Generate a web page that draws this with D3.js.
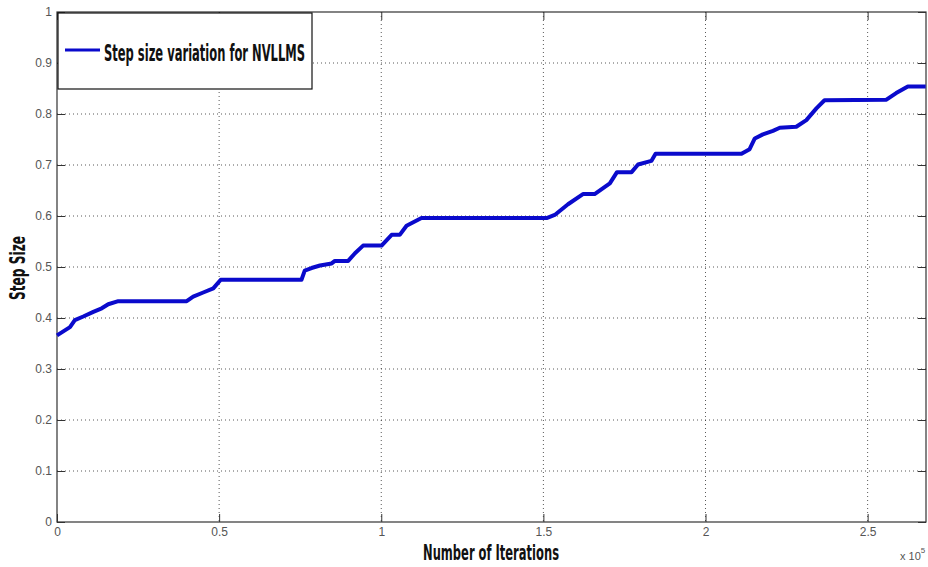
<!DOCTYPE html>
<html>
<head>
<meta charset="utf-8">
<script src="https://cdn.jsdelivr.net/npm/d3@7"></script>
<style>
  html, body { margin: 0; padding: 0; background: #fff; }
  svg { display: block; }
</style>
</head>
<body>
<svg id="chart" width="928" height="567"></svg>
<script>
// Iteration counts and the step size reached at each point
const iterations = [0, 4000, 5500, 8100, 11200, 13800, 15800, 18900, 40000, 42000,
  45100, 48200, 50500, 75400, 76400, 78500, 81100, 84700, 85700, 89800,
  91900, 94400, 100100, 103200, 105700, 107800, 112400, 151000, 153500, 157600,
  162200, 165800, 170500, 172700, 177200, 179200, 183300, 184600, 211100, 213600,
  215200, 217700, 220800, 222900, 228000, 231100, 234200, 236700, 255800, 258800,
  262400, 267900];
const stepSize = [0.366, 0.382, 0.396, 0.403, 0.412, 0.419, 0.427, 0.433, 0.433, 0.442,
  0.450, 0.458, 0.475, 0.475, 0.493, 0.498, 0.503, 0.507, 0.512, 0.512,
  0.527, 0.542, 0.542, 0.563, 0.563, 0.581, 0.596, 0.596, 0.602, 0.623,
  0.643, 0.643, 0.664, 0.686, 0.686, 0.701, 0.708, 0.722, 0.722, 0.731,
  0.752, 0.760, 0.767, 0.773, 0.775, 0.788, 0.811, 0.827, 0.828, 0.841,
  0.854, 0.854];

const xTicks = [0, 50000, 100000, 150000, 200000, 250000];
const yTicks = [0, 0.1, 0.2, 0.3, 0.4, 0.5, 0.6, 0.7, 0.8, 0.9, 1];
const seriesName = "Step size variation for NVLLMS";
const xTitle = "Number of Iterations";
const yTitle = "Step Size";

const svg = d3.select("#chart");
const plot = { left: 57, top: 12, right: 926, bottom: 522 };

const x = d3.scaleLinear().domain([0, 268000]).range([plot.left, plot.right]);
const y = d3.scaleLinear().domain([0, 1]).range([plot.bottom, plot.top]);

const tickFont = "'Liberation Sans', Arial, sans-serif";
const titleFont = "'Liberation Sans Narrow', 'DejaVu Sans Condensed', 'Roboto Condensed', sans-serif";
const tickLen = 8;

// dotted grid
const grid = svg.append("g");
grid.selectAll("line.gx").data(xTicks.filter(d => d > 0)).join("line")
  .attr("x1", d => x(d)).attr("x2", d => x(d))
  .attr("y1", plot.top).attr("y2", plot.bottom)
  .attr("stroke", "#222").attr("stroke-width", 1)
  .attr("stroke-dasharray", "1,3").attr("opacity", 0.75);
grid.selectAll("line.gy").data(yTicks.filter(d => d > 0 && d < 1)).join("line")
  .attr("x1", plot.left).attr("x2", plot.right)
  .attr("y1", d => y(d)).attr("y2", d => y(d))
  .attr("stroke", "#222").attr("stroke-width", 1)
  .attr("stroke-dasharray", "1,3").attr("opacity", 0.75);

// axes with inward ticks
const axisStyle = g => {
  g.select(".domain").remove();
  g.selectAll(".tick line").attr("stroke", "#333");
  g.selectAll(".tick text").attr("fill", "#555")
    .style("font-family", tickFont).style("font-size", "12px");
};

svg.append("g").attr("transform", `translate(0,${plot.bottom})`)
  .call(d3.axisBottom(x).tickValues(xTicks).tickSizeInner(-tickLen).tickPadding(5)
    .tickFormat(d => d3.format("~g")(d / 1e5)))
  .call(axisStyle);
svg.append("g").attr("transform", `translate(0,${plot.top})`)
  .call(d3.axisTop(x).tickValues(xTicks).tickSizeInner(-tickLen).tickFormat(""))
  .call(axisStyle);
svg.append("g").attr("transform", `translate(${plot.left},0)`)
  .call(d3.axisLeft(y).tickValues(yTicks).tickSizeInner(-tickLen).tickPadding(5)
    .tickFormat(d3.format("~g")))
  .call(axisStyle);
svg.append("g").attr("transform", `translate(${plot.right},0)`)
  .call(d3.axisRight(y).tickValues(yTicks).tickSizeInner(-tickLen).tickFormat(""))
  .call(axisStyle);

// frame
svg.append("rect")
  .attr("x", plot.left).attr("y", plot.top)
  .attr("width", plot.right - plot.left).attr("height", plot.bottom - plot.top)
  .attr("fill", "none").attr("stroke", "#333").attr("stroke-width", 1.2);

// series line
const line = d3.line().x((d, i) => x(iterations[i])).y(d => y(d));
svg.append("path").datum(stepSize)
  .attr("d", line)
  .attr("fill", "none").attr("stroke", "#0a0acc")
  .attr("stroke-width", 4).attr("stroke-linejoin", "round");

// legend
const lg = svg.append("g");
lg.append("rect").attr("x", 58).attr("y", 13).attr("width", 254).attr("height", 76)
  .attr("fill", "#fff").attr("stroke", "#111").attr("stroke-width", 1.2);
lg.append("line").attr("x1", 65).attr("x2", 100).attr("y1", 50).attr("y2", 50)
  .attr("stroke", "#0a0acc").attr("stroke-width", 3);
lg.append("text").attr("x", 104).attr("y", 61)
  .attr("textLength", 201).attr("lengthAdjust", "spacingAndGlyphs")
  .style("font-family", titleFont).style("font-weight", "bold")
  .style("font-size", "23px").attr("fill", "#111")
  .text(seriesName);

// axis titles
svg.append("text").attr("x", 491).attr("y", 560).attr("text-anchor", "middle")
  .attr("textLength", 136).attr("lengthAdjust", "spacingAndGlyphs")
  .style("font-family", titleFont).style("font-weight", "bold")
  .style("font-size", "21px").attr("fill", "#111")
  .text(xTitle);
svg.append("text").attr("transform", "translate(25,268) rotate(-90)")
  .attr("text-anchor", "middle")
  .attr("textLength", 64).attr("lengthAdjust", "spacingAndGlyphs")
  .style("font-family", titleFont).style("font-weight", "bold")
  .style("font-size", "21px").attr("fill", "#111")
  .text(yTitle);

// exponent note
const ex = svg.append("text").attr("x", 900).attr("y", 560)
  .style("font-family", tickFont).style("font-size", "11px").attr("fill", "#555");
ex.append("tspan").text("x 10");
ex.append("tspan").attr("dy", -7).style("font-size", "8px").text("5");
</script>
</body>
</html>
